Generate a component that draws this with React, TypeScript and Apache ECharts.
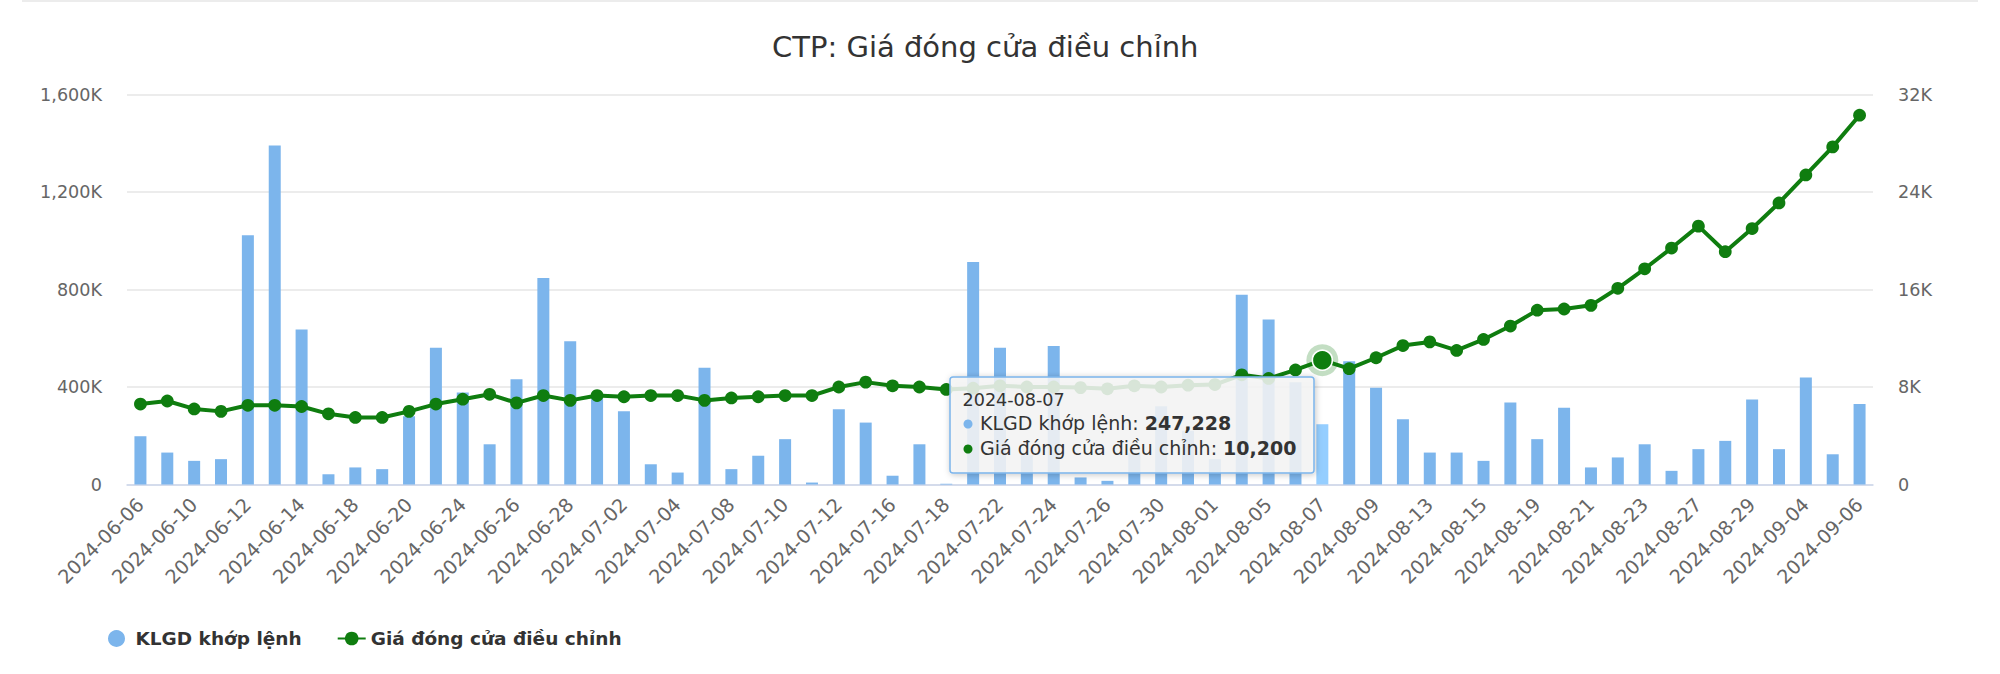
import React, { useEffect, useRef } from "react";
import * as echarts from "echarts";

const FONT = '"DejaVu Sans", sans-serif';

const dates = [
  "2024-06-06", "2024-06-07", "2024-06-10", "2024-06-11", "2024-06-12", "2024-06-13", "2024-06-14",
  "2024-06-17", "2024-06-18", "2024-06-19", "2024-06-20", "2024-06-21", "2024-06-24", "2024-06-25",
  "2024-06-26", "2024-06-27", "2024-06-28", "2024-07-01", "2024-07-02", "2024-07-03", "2024-07-04",
  "2024-07-05", "2024-07-08", "2024-07-09", "2024-07-10", "2024-07-11", "2024-07-12", "2024-07-15",
  "2024-07-16", "2024-07-17", "2024-07-18", "2024-07-19", "2024-07-22", "2024-07-23", "2024-07-24",
  "2024-07-25", "2024-07-26", "2024-07-29", "2024-07-30", "2024-07-31", "2024-08-01", "2024-08-02",
  "2024-08-05", "2024-08-06", "2024-08-07", "2024-08-08", "2024-08-09", "2024-08-12", "2024-08-13",
  "2024-08-14", "2024-08-15", "2024-08-16", "2024-08-19", "2024-08-20", "2024-08-21", "2024-08-22",
  "2024-08-23", "2024-08-26", "2024-08-27", "2024-08-28", "2024-08-29", "2024-08-30", "2024-09-04",
  "2024-09-05", "2024-09-06",
];

// KLGD khớp lệnh (shares)
const volumes = [
  198000, 131000, 97000, 104000, 1023000, 1391000, 636000,
  42000, 70000, 63000, 280000, 561000, 377000, 165000,
  432000, 847000, 588000, 355000, 301000, 83000, 49000,
  479000, 63000, 118000, 186000, 8000, 309000, 254000,
  36000, 165000, 3000, 913000, 561000, 120000, 568000,
  29000, 15000, 130000, 321000, 220000, 104000, 778000,
  677000, 420000, 247228, 506000, 397000, 268000, 131000,
  131000, 97000, 336000, 186000, 315000, 70000, 111000,
  165000, 56000, 145000, 179000, 349000, 145000, 439000,
  124000, 330000,
];

// Giá đóng cửa điều chỉnh (VND)
const prices = [
  6600, 6850, 6200, 6000, 6500, 6500, 6400,
  5800, 5500, 5500, 6000, 6600, 7000, 7400,
  6700, 7300, 6900, 7300, 7200, 7300, 7300,
  6900, 7100, 7200, 7300, 7300, 8000, 8400,
  8100, 8000, 7800, 7900, 8100, 8000, 8000,
  7950, 7850, 8100, 8000, 8150, 8200, 9000,
  8700, 9400, 10200, 9500, 10400, 11400, 11700,
  11000, 11900, 13000, 14300, 14400, 14700, 16100,
  17700, 19400, 21200, 19100, 21000, 23100, 25400,
  27700, 30300,
];

const volumeTicks = [0, 400000, 800000, 1200000, 1600000];
const priceTicks = [0, 8000, 16000, 24000, 32000];

const TITLE = "CTP: Giá đóng cửa điều chỉnh";
const VOL_NAME = "KLGD khớp lệnh";
const PRICE_NAME = "Giá đóng cửa điều chỉnh";
const HOVER_INDEX = 44;

const BAR_COLOR = "#7cb5ec";
const BAR_HOVER = "#95ceff";
const LINE_COLOR = "#0f7d0f";

const fmtK = (v: number) => (v === 0 ? "0" : (v / 1000).toLocaleString("en-US") + "K");
const fmtNum = (v: number) => v.toLocaleString("en-US");

export default function App() {
  const ref = useRef<HTMLDivElement>(null);

  useEffect(() => {
    document.body.style.margin = "0";
    const chart = echarts.init(ref.current!, undefined, { renderer: "svg" });

    const tipX = 950;
    const tipY = 377;
    const tipW = 364;
    const tipH = 96;

    const option: any = {
      animation: false,
      textStyle: { fontFamily: FONT },
      title: {
        text: TITLE,
        left: 772,
        top: 32,
        padding: 0,
        textStyle: { fontSize: 29, fontWeight: "normal", color: "#333333", fontFamily: FONT },
      },
      grid: { left: 127, right: 127, top: 94.5, bottom: 189.5 },
      legend: {
        left: 103,
        top: 624,
        itemWidth: 28,
        itemHeight: 17,
        itemGap: 35,
        textStyle: { fontSize: 18.5, fontWeight: "bold", color: "#333333", fontFamily: FONT },
        data: [
          { name: VOL_NAME, icon: "circle" },
          { name: PRICE_NAME },
        ],
      },
      xAxis: {
        type: "category",
        data: dates,
        boundaryGap: true,
        axisLine: { lineStyle: { color: "#ccd6eb", width: 1.5 } },
        axisTick: { show: false },
        axisLabel: {
          interval: 1,
          rotate: 45,
          margin: 17,
          color: "#666666",
          fontSize: 19.2,
          fontFamily: FONT,
        },
        splitLine: { show: false },
      },
      yAxis: [
        {
          type: "value",
          min: volumeTicks[0],
          max: volumeTicks[volumeTicks.length - 1],
          interval: volumeTicks[1] - volumeTicks[0],
          axisLine: { show: false },
          axisTick: { show: false },
          axisLabel: {
            margin: 25,
            color: "#666666",
            fontSize: 17.6,
            fontFamily: FONT,
            padding: [6, 0, 0, 0],
            formatter: (v: number) => fmtK(v),
          },
          splitLine: { lineStyle: { color: "#e6e6e6", width: 1.5 } },
        },
        {
          type: "value",
          position: "right",
          min: priceTicks[0],
          max: priceTicks[priceTicks.length - 1],
          interval: priceTicks[1] - priceTicks[0],
          axisLine: { show: false },
          axisTick: { show: false },
          axisLabel: {
            margin: 25,
            color: "#666666",
            fontSize: 17.6,
            fontFamily: FONT,
            padding: [6, 0, 0, 0],
            formatter: (v: number) => fmtK(v),
          },
          splitLine: { show: false },
        },
      ],
      series: [
        {
          name: VOL_NAME,
          type: "bar",
          yAxisIndex: 0,
          barWidth: 12,
          itemStyle: { color: BAR_COLOR },
          data: volumes.map((v, i) =>
            i === HOVER_INDEX ? { value: v, itemStyle: { color: BAR_HOVER } } : v
          ),
        },
        {
          name: PRICE_NAME,
          type: "line",
          yAxisIndex: 1,
          symbol: "circle",
          symbolSize: 12.8,
          showAllSymbol: true,
          itemStyle: { color: LINE_COLOR },
          lineStyle: { color: LINE_COLOR, width: 4 },
          data: prices,
          markPoint: {
            silent: true,
            label: { show: false },
            data: [
              {
                coord: [HOVER_INDEX, prices[HOVER_INDEX]],
                symbol: "circle",
                symbolSize: 32,
                itemStyle: { color: "rgba(15,125,15,0.25)" },
              },
              {
                coord: [HOVER_INDEX, prices[HOVER_INDEX]],
                symbol: "circle",
                symbolSize: 20,
                itemStyle: { color: LINE_COLOR, borderColor: "#ffffff", borderWidth: 1.6 },
              },
            ],
          },
        },
      ],
      graphic: [
        {
          type: "line",
          silent: true,
          shape: { x1: 22, y1: 1, x2: 1978, y2: 1 },
          style: { stroke: "#e6e6e6", lineWidth: 1.5 },
        },
        {
          type: "group",
          x: tipX,
          y: tipY,
          z: 100,
          silent: true,
          children: [
            {
              type: "rect",
              z: 100,
              shape: { x: 0, y: 0, width: tipW, height: tipH, r: 3 },
              style: {
                fill: "rgba(247,247,247,0.85)",
                stroke: BAR_COLOR,
                lineWidth: 1.5,
                shadowBlur: 6,
                shadowOffsetX: 1,
                shadowOffsetY: 1,
                shadowColor: "rgba(0,0,0,0.25)",
              },
            },
            {
              type: "text",
              z: 101,
              x: 12.5,
              y: 23,
              style: {
                text: dates[HOVER_INDEX],
                fontSize: 17.6,
                fontFamily: FONT,
                fill: "#333333",
                verticalAlign: "middle",
              },
            },
            {
              type: "circle",
              z: 101,
              shape: { cx: 18, cy: 47, r: 4.5 },
              style: { fill: BAR_COLOR },
            },
            {
              type: "text",
              z: 101,
              x: 30,
              y: 46,
              style: {
                text: "{n|" + VOL_NAME + ": }{b|" + fmtNum(volumes[HOVER_INDEX]) + "}",
                verticalAlign: "middle",
                rich: {
                  n: { fontSize: 19, fontFamily: FONT, fill: "#333333", color: "#333333" },
                  b: { fontSize: 19, fontFamily: FONT, fontWeight: "bold", fill: "#333333", color: "#333333" },
                },
              },
            },
            {
              type: "circle",
              z: 101,
              shape: { cx: 18, cy: 72, r: 4.5 },
              style: { fill: LINE_COLOR },
            },
            {
              type: "text",
              z: 101,
              x: 30,
              y: 71,
              style: {
                text: "{n|" + PRICE_NAME + ": }{b|" + fmtNum(prices[HOVER_INDEX]) + "}",
                verticalAlign: "middle",
                rich: {
                  n: { fontSize: 19, fontFamily: FONT, fill: "#333333", color: "#333333" },
                  b: { fontSize: 19, fontFamily: FONT, fontWeight: "bold", fill: "#333333", color: "#333333" },
                },
              },
            },
          ],
        },
      ],
    };

    chart.setOption(option);
    return () => chart.dispose();
  }, []);

  return (
    <div
      ref={ref}
      style={{ position: "fixed", left: 0, top: 0, width: 2000, height: 674, background: "#ffffff" }}
    />
  );
}
